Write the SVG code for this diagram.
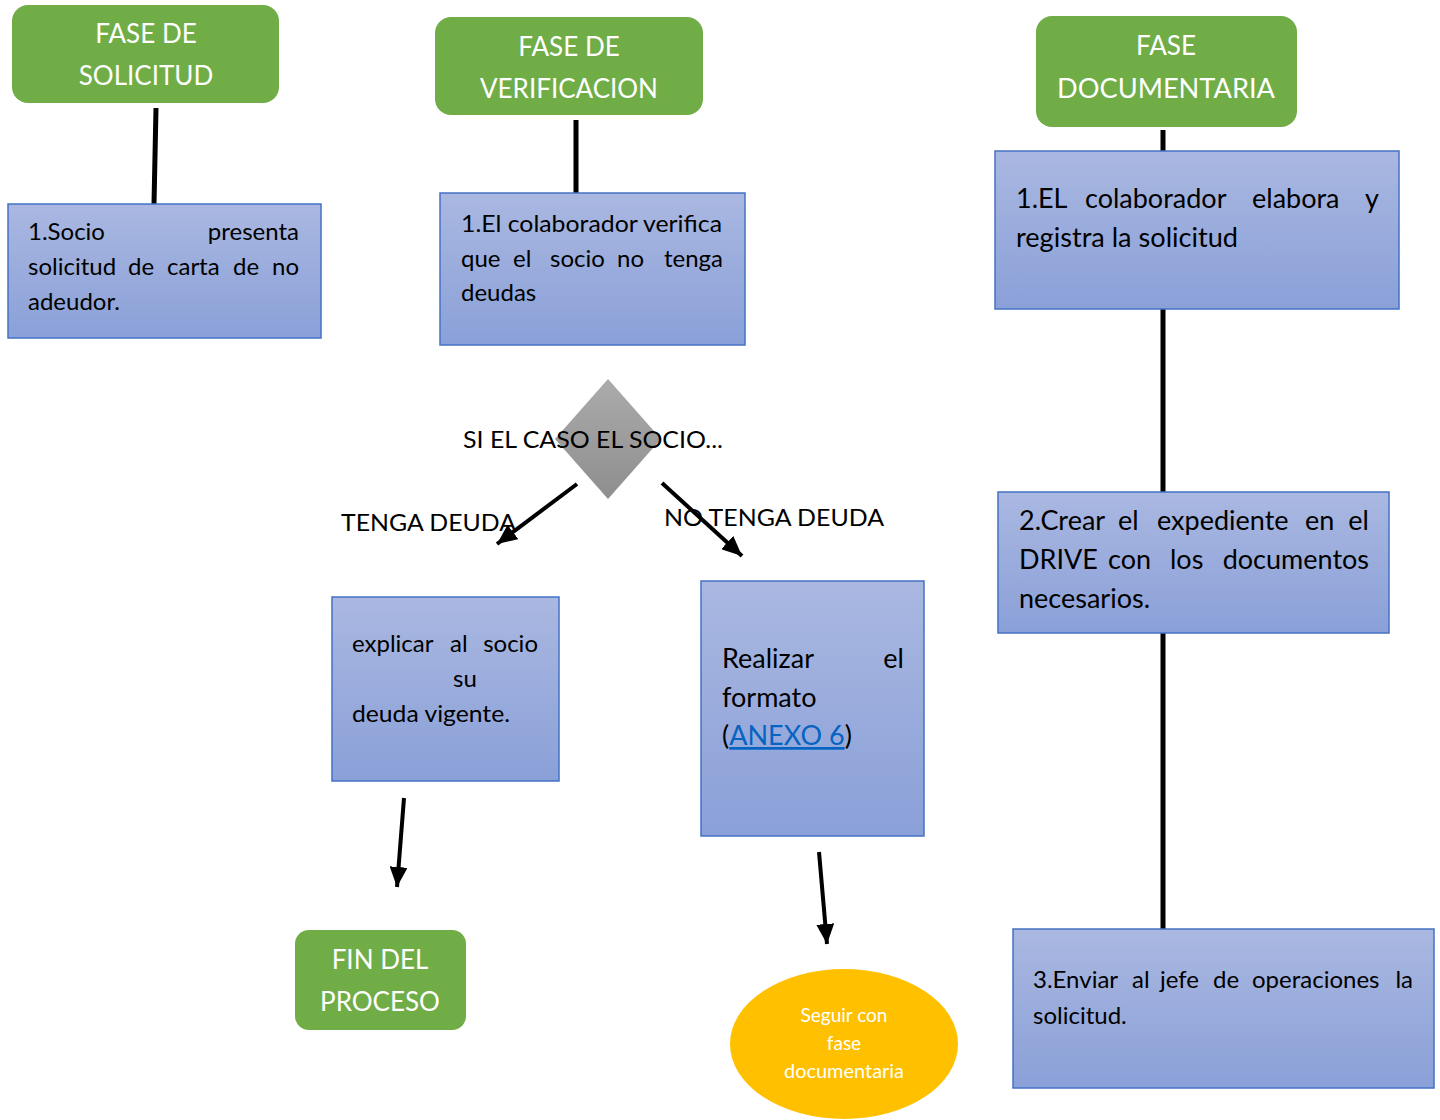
<svg xmlns="http://www.w3.org/2000/svg" width="1440" height="1120" viewBox="0 0 1440 1120">
<defs>
<linearGradient id="blue" x1="0" y1="0" x2="0" y2="1">
<stop offset="0" stop-color="#AAB8E1"/>
<stop offset="1" stop-color="#8AA0D8"/>
</linearGradient>
<linearGradient id="gray" x1="0" y1="0" x2="0" y2="1">
<stop offset="0" stop-color="#ABABAB"/>
<stop offset="1" stop-color="#8E8E8E"/>
</linearGradient>
<marker id="ah" markerUnits="userSpaceOnUse" markerWidth="22" markerHeight="18" refX="20" refY="9" orient="auto">
<path d="M0,0 L20,9 L0,18 Z" fill="#000"/>
</marker>
</defs>
<style>
.t{font-family:Lato,"Liberation Sans",sans-serif;fill:#000}
.w{font-family:Lato,"Liberation Sans",sans-serif;fill:#fff}
.g{fill:#70AD47}
.b{fill:url(#blue);stroke:#4472C4;stroke-width:1.5}
.c{stroke:#000;stroke-width:5;fill:none}
.a{stroke:#000;stroke-width:4;fill:none;marker-end:url(#ah)}
.h{font-size:26px;text-anchor:middle}
.s{font-size:24px}
.m{font-size:27px}
.e{text-anchor:end}
</style>

<g id="connectors">
<line class="c" x1="156" y1="108" x2="154" y2="204"/>
<line class="c" x1="576" y1="120" x2="576" y2="193"/>
<line class="c" x1="1163" y1="130" x2="1163" y2="929" stroke-width="6"/>
<line class="a" x1="577" y1="484" x2="497" y2="544"/>
<line class="a" x1="662" y1="483" x2="742" y2="556"/>
<line class="a" x1="404" y1="798" x2="397" y2="887"/>
<line class="a" x1="819" y1="852" x2="827" y2="944"/>
</g>

<g id="fase-solicitud">
<rect class="g" x="12" y="5" width="267" height="98" rx="16"/>
<text class="w h" x="146" y="43">FASE DE</text>
<text class="w h" x="146" y="85">SOLICITUD</text>
</g>

<g id="fase-verificacion">
<rect class="g" x="435" y="17" width="268" height="98" rx="16"/>
<text class="w h" x="569" y="56">FASE DE</text>
<text class="w h" x="569" y="98">VERIFICACION</text>
</g>

<g id="fase-documentaria">
<rect class="g" x="1036" y="16" width="261" height="111" rx="16"/>
<text class="w h" x="1166" y="55">FASE</text>
<text class="w h" x="1166" y="98" textLength="218" lengthAdjust="spacingAndGlyphs">DOCUMENTARIA</text>
</g>

<g id="socio-presenta">
<rect class="b" x="8" y="204" width="313" height="134"/>
<text class="t s" x="28" y="240">1.Socio</text>
<text class="t s e" x="299" y="240">presenta</text>
<text class="t s" y="275"><tspan x="28">solicitud</tspan><tspan x="128">de</tspan><tspan x="167">carta</tspan><tspan x="233">de</tspan></text>
<text class="t s e" x="299" y="275">no</text>
<text class="t s" x="28" y="310">adeudor.</text>
</g>

<g id="colaborador-verifica">
<rect class="b" x="440" y="193" width="305" height="152"/>
<text class="t s" x="461" y="232" textLength="261" lengthAdjust="spacingAndGlyphs">1.El colaborador verifica</text>
<text class="t s" y="267"><tspan x="461">que</tspan><tspan x="513">el</tspan><tspan x="550">socio</tspan><tspan x="617">no</tspan></text>
<text class="t s e" x="723" y="267">tenga</text>
<text class="t s" x="461" y="301">deudas</text>
</g>

<g id="decision">
<polygon points="608,379 661,439 608,499 555,439" fill="url(#gray)"/>
<text class="t" x="463" y="448" font-size="24" textLength="260" lengthAdjust="spacingAndGlyphs">SI EL CASO EL SOCIO...</text>
<text class="t" x="341" y="531" font-size="24" textLength="175" lengthAdjust="spacingAndGlyphs">TENGA DEUDA</text>
<text class="t" x="664" y="526" font-size="24" textLength="220" lengthAdjust="spacingAndGlyphs">NO TENGA DEUDA</text>
</g>

<g id="explicar-deuda">
<rect class="b" x="332" y="597" width="227" height="184"/>
<text class="t s" y="652"><tspan x="352">explicar</tspan><tspan x="450">al</tspan></text>
<text class="t s e" x="538" y="652">socio</text>
<text class="t s" x="453" y="687">su</text>
<text class="t s" x="352" y="722" textLength="158" lengthAdjust="spacingAndGlyphs">deuda vigente.</text>
</g>

<g id="realizar-formato">
<rect class="b" x="701" y="581" width="223" height="255"/>
<text class="t m" x="722" y="668">Realizar</text>
<text class="t m e" x="904" y="668">el</text>
<text class="t m" x="722" y="707">formato</text>
<text class="t m" x="722" y="745">(<tspan fill="#0563C1" text-decoration="underline">ANEXO 6</tspan>)</text>
</g>

<g id="fin-proceso">
<rect class="g" x="295" y="930" width="171" height="100" rx="14"/>
<text class="w h" x="380" y="969">FIN DEL</text>
<text class="w h" x="380" y="1011">PROCESO</text>
</g>

<g id="seguir-documentaria">
<ellipse cx="844" cy="1044" rx="114" ry="75" fill="#FFC000"/>
<text class="w" x="844" y="1022" font-size="19" text-anchor="middle">Seguir con</text>
<text class="w" x="844" y="1050" font-size="19" text-anchor="middle">fase</text>
<text class="w" x="844" y="1078" font-size="19" text-anchor="middle" textLength="120" lengthAdjust="spacingAndGlyphs">documentaria</text>
</g>

<g id="elabora-registra">
<rect class="b" x="995" y="151" width="404" height="158"/>
<text class="t m" y="208"><tspan x="1016">1.EL</tspan><tspan x="1085">colaborador</tspan><tspan x="1252">elabora</tspan></text>
<text class="t m e" x="1379" y="208">y</text>
<text class="t m" x="1016" y="247" textLength="222" lengthAdjust="spacingAndGlyphs">registra la solicitud</text>
</g>

<g id="crear-expediente">
<rect class="b" x="998" y="492" width="391" height="141"/>
<text class="t m" y="530"><tspan x="1019">2.Crear</tspan><tspan x="1118">el</tspan><tspan x="1157">expediente</tspan><tspan x="1305">en</tspan></text>
<text class="t m e" x="1369" y="530">el</text>
<text class="t m" y="569"><tspan x="1019">DRIVE</tspan><tspan x="1108">con</tspan><tspan x="1170">los</tspan></text>
<text class="t m e" x="1369" y="569">documentos</text>
<text class="t m" x="1019" y="608">necesarios.</text>
</g>

<g id="enviar-jefe">
<rect class="b" x="1013" y="929" width="421" height="159"/>
<text class="t s" y="988"><tspan x="1033">3.Enviar</tspan><tspan x="1132">al</tspan><tspan x="1160">jefe</tspan><tspan x="1213">de</tspan><tspan x="1252">operaciones</tspan></text>
<text class="t s e" x="1413" y="988">la</text>
<text class="t s" x="1033" y="1024">solicitud.</text>
</g>
</svg>
